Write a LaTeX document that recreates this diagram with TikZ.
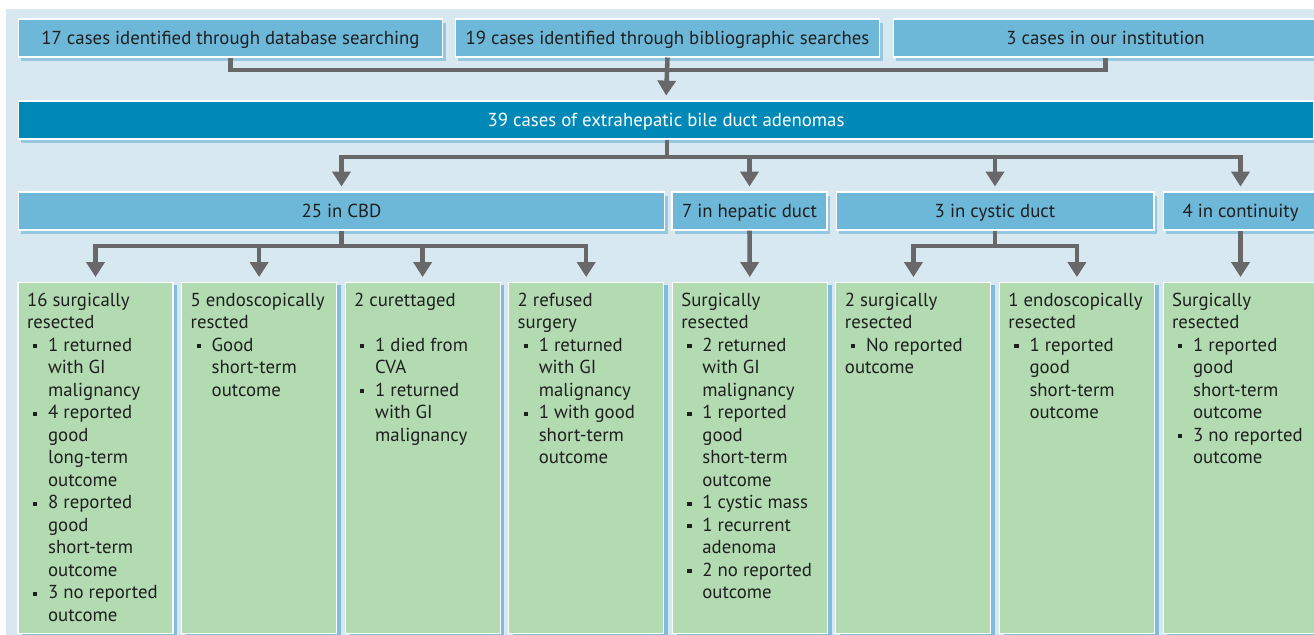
\documentclass[tikz,border=0pt]{standalone}
\usepackage{fontspec}
\setmainfont{PT Sans}
\usepackage{xcolor}
\usepackage{tikz}
\usetikzlibrary{arrows.meta,shadows,positioning}

\definecolor{panelbg}{HTML}{D8E8F1}
\definecolor{boxblue}{HTML}{6DB8D9}
\definecolor{boxdark}{HTML}{0088B7}
\definecolor{boxgreen}{HTML}{B3DBB2}
\definecolor{shadeblue}{HTML}{6AB2D6}
\definecolor{linegray}{HTML}{68686A}
\definecolor{txtdark}{HTML}{1F1F1F}

\newcommand{\bul}{\makebox[12pt][l]{\hspace*{3.4pt}\rule[1.7pt]{2.4pt}{2.4pt}}}
\newcommand{\ind}{\hspace*{12pt}}
\newcommand{\outtext}[1]{\parbox[t][6.6cm][t]{2.74cm}{\raggedright #1}}

\tikzset{
  casebox/.style={rectangle, fill=boxblue, draw=white, line width=0.6pt,
    minimum height=0.76cm, inner sep=0pt, text=txtdark,
    text height=8.8pt, text depth=1.6pt,
    drop shadow={shadow xshift=1.5pt, shadow yshift=-2.5pt, fill=shadeblue, opacity=0.6}},
  totalbox/.style={casebox, fill=boxdark, text=white},
  outbox/.style={rectangle, fill=boxgreen, draw=white, line width=0.6pt,
    inner xsep=0.18cm, inner ysep=0.21cm, anchor=north, text=txtdark,
    drop shadow={shadow xshift=2.5pt, shadow yshift=-1.5pt, fill=shadeblue, opacity=0.8}},
  conn/.style={draw=linegray, line width=2.6pt},
  arr/.style={conn, -{Triangle[width=10.2pt,length=8.5pt]}, shorten >=2.8pt},
}

\begin{document}
\begin{tikzpicture}[x=0.02cm, y=-0.02cm, font=\fontsize{10.7}{12.8}\selectfont]
  \useasboundingbox (0,0) rectangle (1314,635);
  \fill[panelbg] (6,9) rectangle (1314,635);
  % Sources
  \node[casebox, minimum width=8.5cm] (src1) at (230.5,38) {17 cases identified through database searching};
  \node[casebox, minimum width=8.5cm] (src2) at (667.5,38) {19 cases identified through bibliographic searches};
  \node[casebox, minimum width=8.5cm] (src3) at (1105.5,38) {3 cases in our institution};
  \node[totalbox, minimum width=25.92cm] (total) at (666,120) {39 cases of extrahepatic bile duct adenomas};
  % Sites
  \node[casebox, minimum width=12.94cm] (cbd) at (341.5,211) {25 in CBD};
  \node[casebox, minimum width=3.1cm] (hep) at (749.5,211) {7 in hepatic duct};
  \node[casebox, minimum width=6.36cm] (cys) at (995,211) {3 in cystic duct};
  \node[casebox, minimum width=3.1cm] (cont) at (1240.5,211) {4 in continuity};
  % Outcomes
  \node[outbox] (b1) at (95.5,282) {\outtext{16 surgically\\ resected\\
    \bul 1 returned\\ \ind with GI\\ \ind malignancy\\
    \bul 4 reported\\ \ind good\\ \ind long-term\\ \ind outcome\\
    \bul 8 reported\\ \ind good\\ \ind short-term\\ \ind outcome\\
    \bul 3~no~reported\\ \ind outcome}};
  \node[outbox] (b2) at (259.1,282) {\outtext{5~endoscopically\\ rescted\\
    \bul Good\\ \ind short-term\\ \ind outcome}};
  \node[outbox] (b3) at (422.6,282) {\outtext{2 curettaged\\ \mbox{}\\
    \bul 1 died from\\ \ind CVA\\
    \bul 1 returned\\ \ind with GI\\ \ind malignancy}};
  \node[outbox] (b4) at (586.2,282) {\outtext{2 refused\\ surgery\\
    \bul 1 returned\\ \ind with GI\\ \ind malignancy\\
    \bul 1~with~good\\ \ind short-term\\ \ind outcome}};
  \node[outbox] (b5) at (749.8,282) {\outtext{Surgically\\ resected\\
    \bul 2 returned\\ \ind with GI\\ \ind malignancy\\
    \bul 1 reported\\ \ind good\\ \ind short-term\\ \ind outcome\\
    \bul 1~cystic~mass\\
    \bul 1 recurrent\\ \ind adenoma\\
    \bul 2~no~reported\\ \ind outcome}};
  \node[outbox] (b6) at (913.4,282) {\outtext{2 surgically\\ resected\\
    \bul No~reported\\ outcome}};
  \node[outbox] (b7) at (1076.9,282) {\outtext{1~endoscopically\\ resected\\
    \bul 1 reported\\ \ind good\\ \ind short-term\\ \ind outcome}};
  \node[outbox] (b8) at (1240.5,282) {\outtext{Surgically\\ resected\\
    \bul 1 reported\\ \ind good\\ \ind short-term\\ \ind outcome\\
    \bul 3~no~reported\\ \ind outcome}};
  % Connectors
  \coordinate (jtop) at (667.5,70);
  \draw[conn] (src1.south) |- (jtop) -| (src3.south);
  \draw[arr] (src2.south) -- (total.north);
  \coordinate (jmid) at (667,157);
  \draw[conn] (total.south -| jmid) -- (jmid);
  \foreach \s in {cbd,hep,cys,cont}
    \draw[arr] (jmid) -| (\s.north);
  \coordinate (jcbd) at (341.5,246);
  \draw[conn] (cbd.south) -- (jcbd);
  \foreach \b in {b1,b2,b3,b4}
    \draw[arr] (jcbd) -| (\b.north);
  \coordinate (jcys) at (995,246);
  \draw[conn] (cys.south) -- (jcys);
  \foreach \b in {b6,b7}
    \draw[arr] (jcys) -| (\b.north);
  \draw[arr] (hep.south) -- (b5.north);
  \draw[arr] (cont.south) -- (b8.north);
\end{tikzpicture}
\end{document}
